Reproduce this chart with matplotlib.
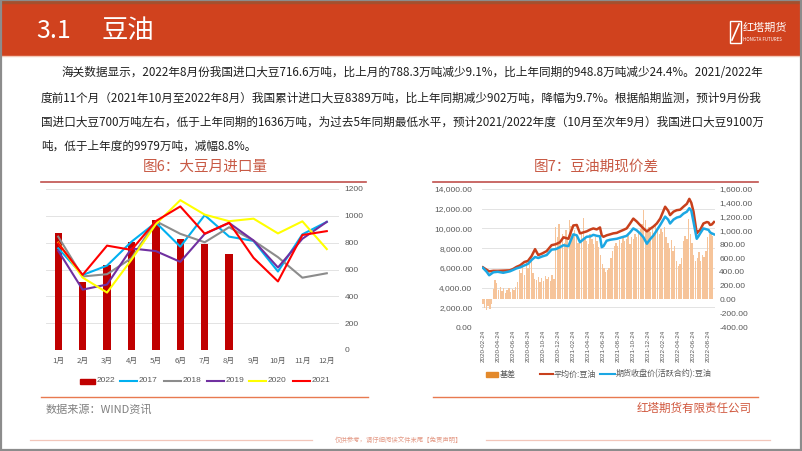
import matplotlib
matplotlib.use('Agg')
import matplotlib.pyplot as plt
import numpy as np
import pandas as pd
from matplotlib.patches import Rectangle
from matplotlib.ticker import FuncFormatter

plt.rcParams['font.family'] = ['Noto Sans CJK SC', 'DejaVu Sans']
NUMF = ['Liberation Sans', 'DejaVu Sans']

# ---------------- data ----------------
months = ['1月', '2月', '3月', '4月', '5月', '6月', '7月', '8月', '9月', '10月', '11月', '12月']
imp_2022 = [874, 508, 635, 808, 967, 824, 788.3, 716.6]
imp_2017 = [758, 559, 629, 807, 950, 770, 1005, 845, 813, 585, 862, 955]
imp_2018 = [845, 548, 565, 684, 960, 866, 803, 915, 815, 692, 539, 572]
imp_2019 = [740, 450, 488, 757, 737, 657, 865, 947, 816, 615, 829, 955]
imp_2020 = [800, 540, 428, 673, 938, 1117, 1009, 960, 979, 869, 959, 752]
imp_2021 = [795, 560, 778, 746, 961, 1070, 867, 949, 687, 511, 857, 886]

price_dates = ['2020-02-24', '2020-03-10', '2020-03-20', '2020-04-06', '2020-04-24', '2020-05-16',
               '2020-06-12', '2020-06-26', '2020-07-09', '2020-07-23', '2020-08-10', '2020-08-24',
               '2020-09-08', '2020-09-22', '2020-10-05', '2020-10-20', '2020-11-08', '2020-11-28',
               '2020-12-15', '2021-01-01', '2021-01-15', '2021-02-04', '2021-02-24', '2021-03-10',
               '2021-03-23', '2021-04-06', '2021-04-19', '2021-05-05', '2021-05-16', '2021-05-30',
               '2021-06-12', '2021-06-19', '2021-06-26', '2021-07-09', '2021-07-23', '2021-08-05',
               '2021-08-19', '2021-09-01', '2021-09-15', '2021-09-28', '2021-10-12', '2021-10-25',
               '2021-11-08', '2021-11-21', '2021-12-05', '2021-12-19', '2022-01-01', '2022-01-15',
               '2022-01-28', '2022-02-11', '2022-03-03', '2022-03-15', '2022-03-23', '2022-04-06',
               '2022-04-19', '2022-05-03', '2022-05-16', '2022-05-30', '2022-06-09', '2022-06-17',
               '2022-06-26', '2022-07-09', '2022-07-16', '2022-07-23', '2022-08-05', '2022-08-19',
               '2022-08-26', '2022-09-01', '2022-09-08', '2022-09-17']
avg_price = [6050, 5800, 5650, 5700, 5700, 5720, 5750, 5900, 6100, 6250, 6600, 6700,
             7200, 7900, 7300, 7450, 7700, 8300, 8400, 8600, 9100, 8950, 10300, 10350,
             9500, 9600, 9700, 9900, 10000, 9900, 10100, 9300, 9150, 9300, 9400, 9500,
             9550, 9700, 9850, 10000, 10500, 11000, 10700, 10350, 10000, 9700, 9950, 10200,
             10500, 11000, 12200, 11800, 11350, 11700, 11850, 11900, 12200, 12500, 13000, 12600,
             11700, 9500, 9700, 9850, 10500, 10650, 10600, 10350, 10400, 10650]
fut_price = [6000, 5600, 5250, 5550, 5600, 5500, 5650, 5800, 5950, 6050, 6250, 6400,
             6800, 7100, 7000, 7150, 7300, 7850, 7900, 8100, 8300, 8200, 9400, 9300,
             8600, 8900, 9150, 9200, 9350, 9250, 9200, 8100, 8200, 8750, 8850, 8900,
             8950, 9050, 9150, 9250, 9600, 10000, 9800, 9500, 9100, 8450, 8900, 9300,
             9800, 10350, 11200, 10900, 10500, 10900, 11100, 11200, 11500, 11700, 12050, 11800,
             10650, 8950, 9200, 9500, 10000, 9900, 9850, 9600, 9500, 9400]

basis_start = '2020-02-24'   # weekly values
basis = [-60, -120, -150, -100, -140, -60, 150, 280, 240, 130, 180, 120, 160, 100, 140, 170,
         110, 150, 130, 180, 250, 420, 380, 480, 350, 560, 450, 520, 600, 380, 300, 280,
         330, 250, 310, 270, 340, 290, 320, 260, 350, 300, 1050, 900, 1100, 850, 950, 820,
         1000, 880, 1150, 1060, 900, 1000, 950, 820, 880, 950, 1180, 900, 850, 800, 950, 880,
         800, 900, 850, 760, 650, 520, 450, 400, 430, 460, 600, 700, 780, 820, 780, 860,
         820, 900, 850, 880, 930, 800, 900, 870, 950, 900, 980, 1020, 1100, 1300, 1150, 1000,
         1050, 980, 1020, 960, 1070, 1000, 950, 1020, 980, 1050, 900, 820, 750, 860, 700, 780,
         560, 480, 520, 600, 850, 920, 880, 1160, 950, 820, 650, 550, 600, 680, 560, 640,
         620, 700, 900, 950, 980, 920]

para_lines = [
    '海关数据显示，2022年8月份我国进口大豆716.6万吨，比上月的788.3万吨减少9.1%，比上年同期的948.8万吨减少24.4%。2021/2022年',
    '度前11个月（2021年10月至2022年8月）我国累计进口大豆8389万吨，比上年同期减少902万吨，降幅为9.7%。根据船期监测，预计9月份我',
    '国进口大豆700万吨左右，低于上年同期的1636万吨，为过去5年同期最低水平，预计2021/2022年度（10月至次年9月）我国进口大豆9100万',
    '吨，低于上年度的9979万吨，减幅8.8%。',
]

# ---------------- figure ----------------
W, H = 802, 451
fig = plt.figure(figsize=(8.02, 4.51), dpi=100)


def ax_at(x0, y0, x1, y1):
    return fig.add_axes([x0 / W, 1 - y1 / H, (x1 - x0) / W, (y1 - y0) / H])


bg = fig.add_axes([0, 0, 1, 1])
bg.set_xlim(0, W)
bg.set_ylim(H, 0)
bg.axis('off')

# header band
bg.add_patch(Rectangle((0, 0), W, 55, color='#D0421E', zorder=1))
bg.add_patch(Rectangle((0, 0), W, 2.5, color='#A4502E', zorder=2))
bg.text(36, 31, '3.1', fontsize=18, color='white', va='center', ha='left', zorder=3)
bg.text(102, 31, '豆油', fontsize=19, color='white', va='center', ha='left', zorder=3)
# logo
bg.add_patch(Rectangle((730, 21), 11, 22, fill=False, ec='white', lw=1.0, zorder=3))
bg.plot([732, 739], [40, 24], color='white', lw=1.2, zorder=4)
bg.text(743, 28, '红塔期货', fontsize=8, color='white', va='center', ha='left', zorder=3)
bg.text(743, 39.5, 'HONGTA FUTURES', fontsize=3.2, color='white', va='center', ha='left', zorder=3)

# body top line and frame
bg.plot([0, W], [56, 56], color='#F4C9B8', lw=1.0)
bg.add_patch(Rectangle((0.8, 0), W - 1.6, H - 0.8, fill=False, ec='#8C8C8C', lw=1.6, zorder=5))

# paragraph
renderer = fig.canvas.get_renderer()
line_y = [73, 98, 122, 146]
line_x0 = [61, 41, 41, 41]
fs_ref = 9.0
last_fs = fs_ref
for i, s in enumerate(para_lines):
    t = bg.text(line_x0[i], line_y[i], s, fontsize=fs_ref, color='#1F1F1F', va='center', ha='left')
    if i < 3:
        w = t.get_window_extent(renderer).width
        fs = fs_ref * (763 - line_x0[i]) / w
        t.set_fontsize(fs)
        last_fs = fs
    else:
        t.set_fontsize(last_fs)

# chart titles
title_col = '#C85A45'
bg.text(205, 167, '图6：大豆月进口量', fontsize=10.5, color=title_col, ha='center', va='center')
bg.text(596, 167, '图7：豆油期现价差', fontsize=10.5, color=title_col, ha='center', va='center')
bg.plot([41, 366], [182, 182], color='#C0504D', lw=1.2)
bg.plot([433, 758], [182, 182], color='#C0504D', lw=1.2)
bg.plot([41, 368], [397, 397], color='#E87A50', lw=1.0)
bg.plot([433, 758], [397, 397], color='#E87A50', lw=1.0)

# source / company
bg.text(46, 409, '数据来源：WIND资讯', fontsize=8, color='#808080', va='center', ha='left', style='italic')
bg.text(752, 408, '红塔期货有限责任公司', fontsize=8.3, color='#D0573D', va='center', ha='right')

# footer
bg.plot([30, 312], [440, 440], color='#F2C6BA', lw=0.9)
bg.plot([486, 770], [440, 440], color='#F2C6BA', lw=0.9)
bg.text(399, 440, '仅供参考，请仔细阅读文件末尾【免责声明】', fontsize=4.6, color='#E49A86', ha='center', va='center')

# ---------------- left chart ----------------
axL = ax_at(46, 189, 339, 350)
x = np.arange(len(months))
axL.bar(x[:len(imp_2022)], imp_2022, width=0.3, color='#C00000', zorder=2)
series = [(imp_2017, '#00B0F0'), (imp_2018, '#8C8C8C'), (imp_2019, '#7030A0'),
          (imp_2020, '#FFFF00'), (imp_2021, '#FF0000')]
for vals, col in series:
    axL.plot(x, vals, color=col, lw=1.5, zorder=3)
axL.set_xlim(-0.5, 11.5)
axL.set_ylim(0, 1200)
axL.yaxis.tick_right()
axL.set_yticks(np.arange(0, 1201, 200))
axL.set_xticks(x)
axL.set_xticklabels(months)
axL.grid(axis='y', color='#E3E3E3', lw=0.7)
axL.set_axisbelow(True)
for s in axL.spines.values():
    s.set_visible(False)
axL.tick_params(length=0, labelsize=5.6, colors='#595959')
axL.tick_params(axis='y', pad=4)
axL.tick_params(axis='x', pad=5)
for lab in axL.get_yticklabels():
    lab.set_fontfamily(NUMF)
    lab.set_fontsize(6)
axL.patch.set_alpha(0)

# left legend (manual)
ly = 381
bg.add_patch(Rectangle((80, ly - 2.5), 15, 5, color='#C00000'))
bg.text(97, ly, '2022', fontsize=6, color='#595959', va='center', family=NUMF)
leg = [('2017', '#00B0F0', 120), ('2018', '#8C8C8C', 164), ('2019', '#7030A0', 207),
       ('2020', '#FFFF00', 249), ('2021', '#FF0000', 293)]
for lab, col, lx in leg:
    bg.plot([lx, lx + 17], [ly, ly], color=col, lw=1.5)
    bg.text(lx + 19, ly, lab, fontsize=6, color='#595959', va='center', family=NUMF)

# ---------------- right chart ----------------
axB = ax_at(482, 189, 715, 327)
axP = axB.twinx()

bdates = pd.date_range(basis_start, periods=len(basis), freq='7D')
axB.bar(bdates, basis, width=5.5, color='#F6C49A', zorder=2)
axB.set_ylim(-400, 1600)
grid_vals = -400 + np.arange(0, 14001, 2000) / 14000 * 2000
for gv in grid_vals:
    axB.axhline(gv, color='#E3E3E3', lw=0.7, zorder=0.5)
xt = pd.date_range('2020-02-24', '2022-08-24', freq=pd.DateOffset(months=2))
axB.set_xticks(xt)
axB.set_xticklabels([d.strftime('%Y-%m-%d') for d in xt], rotation=90, family=NUMF)
axB.set_xlim(pd.Timestamp('2020-02-20'), pd.Timestamp('2022-09-21'))
for s in axB.spines.values():
    s.set_visible(False)
axB.patch.set_alpha(0)

pdts = pd.to_datetime(price_dates)
axP.plot(pdts, avg_price, color='#C8401C', lw=1.8, zorder=3)
axP.plot(pdts, fut_price, color='#1CA7E3', lw=1.8, zorder=3)
axP.set_ylim(0, 14000)
axP.set_yticks(np.arange(0, 14001, 2000))
axP.yaxis.set_major_formatter(FuncFormatter(lambda v, p: f'{v:,.2f}'))
for s in axP.spines.values():
    s.set_visible(False)
axP.set_xlim(pd.Timestamp('2020-02-20'), pd.Timestamp('2022-09-21'))

# axis sides (after twinx)
axP.yaxis.tick_left()
axP.yaxis.set_label_position('left')
axB.yaxis.tick_right()
axB.set_yticks(np.arange(-400, 1601, 200))
axB.yaxis.set_major_formatter(FuncFormatter(lambda v, p: f'{v:,.2f}'))
axB.tick_params(length=0, labelsize=6, colors='#595959')
axB.tick_params(axis='y', pad=3)
axB.tick_params(axis='x', labelsize=4.5, pad=2)
axP.tick_params(length=0, labelsize=6, colors='#595959', pad=7)
for lab in list(axB.get_yticklabels()) + list(axP.get_yticklabels()) + list(axB.get_xticklabels()):
    lab.set_fontfamily(NUMF)

# right legend (manual)
ry = 374
bg.add_patch(Rectangle((486, ry - 2.5), 12, 5, color='#E3892B'))
bg.text(500, ry, '基差', fontsize=5.8, color='#595959', va='center')
bg.plot([540, 553], [ry, ry], color='#C8401C', lw=1.5)
bg.text(554, ry, '平均价:豆油', fontsize=5.8, color='#595959', va='center')
bg.plot([600, 615], [ry, ry], color='#1CA7E3', lw=1.5)
bg.text(616, ry, '期货收盘价(活跃合约):豆油', fontsize=5.8, color='#595959', va='center')

fig.savefig('out.png', dpi=100)
